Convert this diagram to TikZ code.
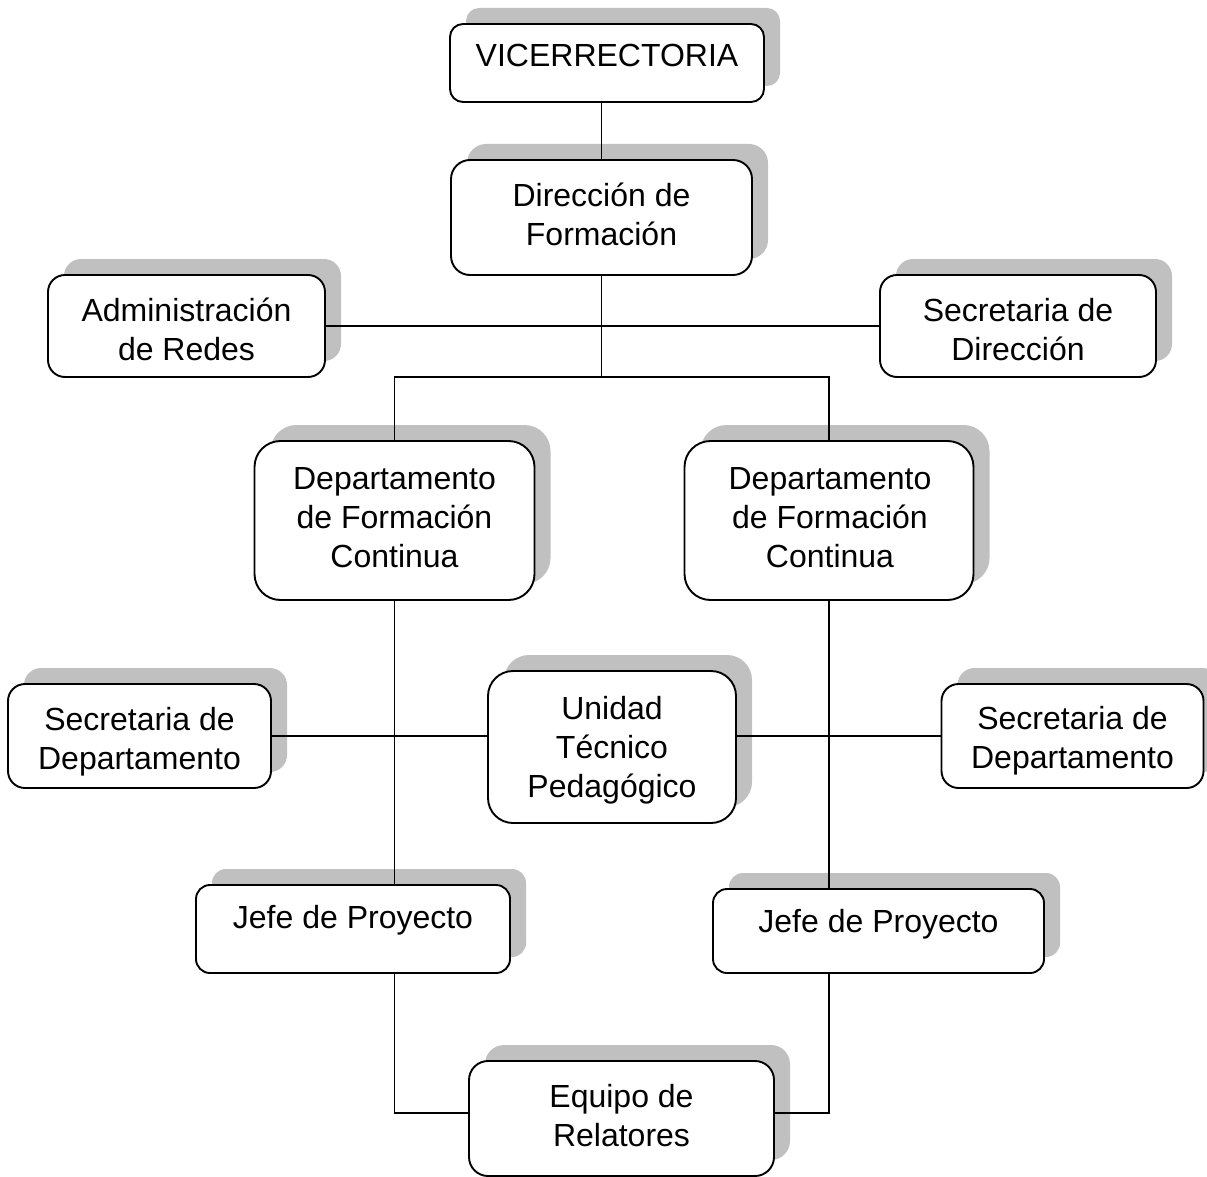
\documentclass[tikz,border=0pt]{standalone}
\usepackage{fontspec}
\setmainfont{Liberation Sans}
\pgfdeclarelayer{shadowlayer}
\pgfdeclarelayer{linelayer}
\pgfsetlayers{shadowlayer,linelayer,main}
\definecolor{shadowgray}{RGB}{192,192,192}
\newcommand\castshadow[2]{\fill[shadowgray, rounded corners=#2] ([shift={(16pt,16pt)}]#1.south west) rectangle ([shift={(16pt,16pt)}]#1.north east);}
\begin{document}
\begin{tikzpicture}[x=1pt,y=-1pt,
  orgbox/.style={draw=black, fill=white, line width=1.9pt, inner sep=0pt, outer sep=0pt, rectangle},
  orgtext/.style={anchor=base, align=center, inner sep=0pt, font=\fontsize{32}{39}\selectfont},
  conn/.style={line width=1.9pt, draw=black}]
\useasboundingbox (0,0) rectangle (1207,1177);
% boxes
\node[orgbox, minimum width=314pt, minimum height=78pt, rounded corners=13pt] (vic) at (607,63) {};
\node[orgbox, minimum width=301pt, minimum height=115pt, rounded corners=19pt] (dir) at (601.5,217.5) {};
\node[orgbox, minimum width=277pt, minimum height=102pt, rounded corners=17pt] (adm) at (186.5,326) {};
\node[orgbox, minimum width=276pt, minimum height=102pt, rounded corners=17pt] (sd) at (1018,326) {};
\node[orgbox, minimum width=280pt, minimum height=159pt, rounded corners=26pt] (dl) at (394.5,520.5) {};
\node[orgbox, minimum width=289pt, minimum height=159pt, rounded corners=26pt] (dr) at (829,520.5) {};
\node[orgbox, minimum width=263pt, minimum height=104pt, rounded corners=17pt] (sdl) at (139.5,736) {};
\node[orgbox, minimum width=248pt, minimum height=152pt, rounded corners=25pt] (ut) at (612,747) {};
\node[orgbox, minimum width=262pt, minimum height=104pt, rounded corners=17pt] (sdr) at (1072.5,736) {};
\node[orgbox, minimum width=314pt, minimum height=88pt, rounded corners=14pt] (jl) at (353,929) {};
\node[orgbox, minimum width=331pt, minimum height=84pt, rounded corners=14pt] (jr) at (878.5,931) {};
\node[orgbox, minimum width=305pt, minimum height=115pt, rounded corners=19pt] (eq) at (621.5,1118.5) {};
% texts (anchor = baseline of the last line)
\node[orgtext] (tvic) at (607,67) {VICERRECTORIA};
\node[orgtext] (tdir) at (601.5,245) {Dirección de\\Formación};
\node[orgtext] (tadm) at (186.5,360) {Administración\\de Redes};
\node[orgtext] (tsd) at (1018,360) {Secretaria de\\Dirección};
\node[orgtext] (tdl) at (394.5,567) {Departamento\\de Formación\\Continua};
\node[orgtext] (tdr) at (830,567) {Departamento\\de Formación\\Continua};
\node[orgtext] (tsdl) at (139.5,769) {Secretaria de\\Departamento};
\node[orgtext] (tut) at (612,797) {Unidad\\Técnico\\Pedagógico};
\node[orgtext] (tsdr) at (1072.5,768) {Secretaria de\\Departamento};
\node[orgtext] (tjl) at (353,928) {Jefe de Proyecto};
\node[orgtext] (tjr) at (878.5,932) {Jefe de Proyecto};
\node[orgtext] (teq) at (621.5,1146) {Equipo de\\Relatores};
% shadows
\begin{pgfonlayer}{shadowlayer}
\castshadow{vic}{13pt}
\castshadow{dir}{19pt}
\castshadow{adm}{17pt}
\castshadow{sd}{17pt}
\castshadow{dl}{26pt}
\castshadow{dr}{26pt}
\castshadow{sdl}{17pt}
\castshadow{ut}{25pt}
\castshadow{sdr}{17pt}
\castshadow{jl}{14pt}
\castshadow{jr}{14pt}
\castshadow{eq}{19pt}
\end{pgfonlayer}
% connectors
\begin{pgfonlayer}{linelayer}
\coordinate (hub) at (601.5,377);
\draw[conn] (dir.north) -- (dir.north |- vic.south);
\draw[conn] (adm.east) -- (sd.west);
\draw[conn] (dir.south) -- (hub);
\draw[conn] (dl.north) |- (hub) -| (dr.north);
\draw[conn] (dl.south) -- (dl.south |- jl.north);
\draw[conn] (dr.south) -- (dr.south |- jr.north);
\draw[conn] (sdl.east) -- (sdl.east -| ut.west);
\draw[conn] (sdr.west) -- (sdr.west -| ut.east);
\draw[conn] (dl.south |- jl.south) |- ([yshift=5.5pt]eq.west);
\draw[conn] (dr.south |- jr.south) |- ([yshift=5.5pt]eq.east);
\end{pgfonlayer}
\end{tikzpicture}
\end{document}
